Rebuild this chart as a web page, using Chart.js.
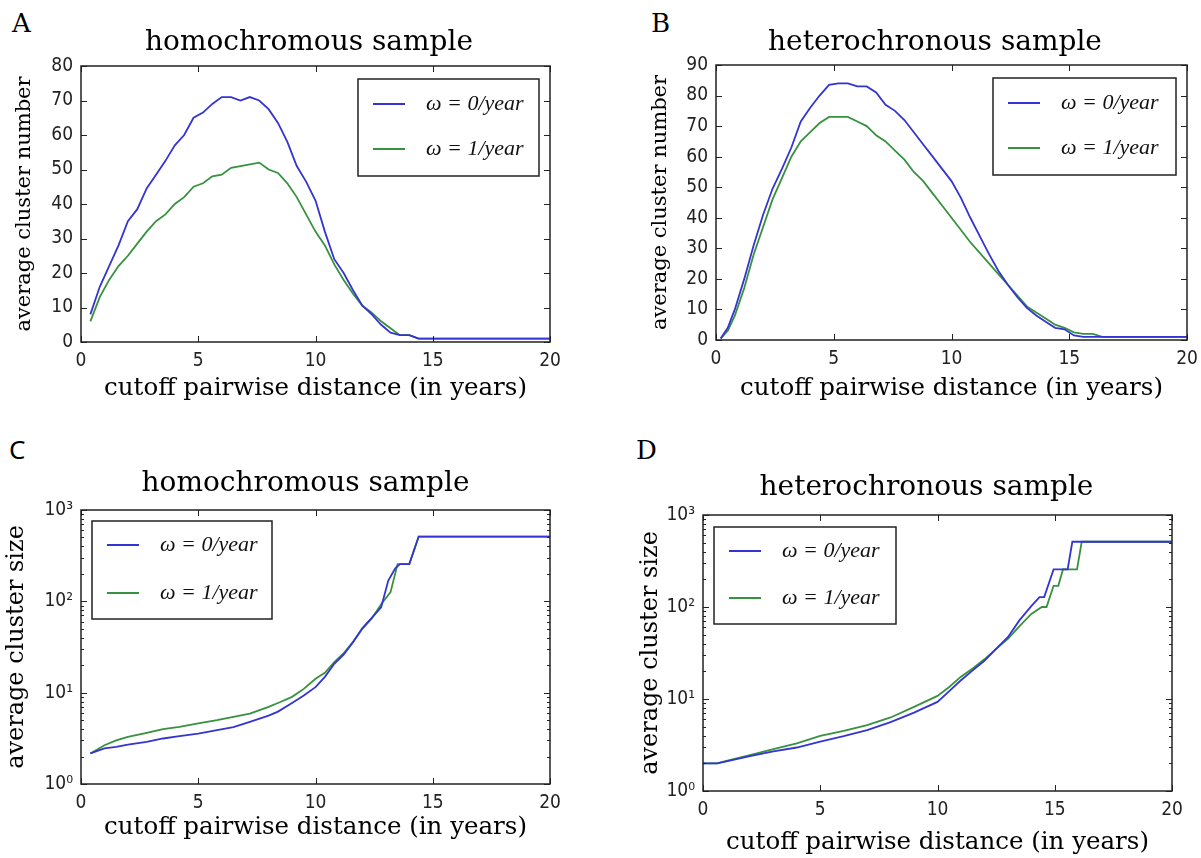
<!DOCTYPE html>
<html>
<head>
<meta charset="utf-8">
<script src="https://cdn.jsdelivr.net/npm/chart.js@4.4.1/dist/chart.umd.min.js"></script>
<style>
  html, body { margin: 0; padding: 0; background: #fff; overflow: hidden; }
  body { position: relative; width: 1201px; height: 858px; }
  .panel { position: absolute; }
  .tag { position: absolute; font-family: 'DejaVu Serif', serif; font-size: 26px; line-height: 1; color: #000; }
</style>
</head>
<body>
<div class="tag" style="left:12px;top:10px">A</div>
<div class="tag" style="left:651px;top:10px">B</div>
<div class="tag" style="left:9px;top:436px;font-family:'Noto Sans',sans-serif">C</div>
<div class="tag" style="left:636px;top:437px">D</div>

<div class="panel" style="left:0px;top:0px;width:618px;height:420px"><canvas id="chartA"></canvas></div>
<div class="panel" style="left:636px;top:0px;width:598px;height:420px"><canvas id="chartB"></canvas></div>
<div class="panel" style="left:0px;top:430px;width:611px;height:428px"><canvas id="chartC"></canvas></div>
<div class="panel" style="left:623px;top:430px;width:607px;height:428px"><canvas id="chartD"></canvas></div>

<script>
'use strict';

// ---- data ----
const seriesLabels = ['ω = 0/year', 'ω = 1/year'];
const panelTitles = ['homochromous sample', 'heterochronous sample', 'homochromous sample', 'heterochronous sample'];
const xAxisTitle = 'cutoff pairwise distance (in years)';
const yAxisTitles = ['average cluster number', 'average cluster number', 'average cluster size', 'average cluster size'];
const logTicks = [1, 10, 100, 1000];
const logTickLabels = ['10⁰', '10¹', '10²', '10³'];

// A: average cluster number, homochromous
const xA = [0.4, 0.8, 1.2, 1.6, 2.0, 2.4, 2.8, 3.2, 3.6, 4.0, 4.4, 4.8, 5.2, 5.6, 6.0, 6.4, 6.8, 7.2, 7.6, 8.0,
  8.4, 8.8, 9.2, 9.6, 10.0, 10.4, 10.8, 11.2, 11.6, 12.0, 12.4, 12.8, 13.2, 13.6, 14.0, 14.4, 14.8, 20];
const numHomoW0 = [8, 16, 22, 28, 35, 38.5, 44.5, 48.5, 52.5, 57, 60, 65, 66.5, 69, 71, 71, 70, 71, 70, 67.5,
  63.5, 58, 51, 46.5, 41, 32, 24, 20, 15, 10.5, 8, 5, 2.7, 2, 2, 1, 1, 1];
const numHomoW1 = [6, 13, 18, 22, 25, 28.5, 32, 35, 37, 40, 42, 45, 46, 48, 48.5, 50.5, 51, 51.5, 52, 50,
  49, 46, 42, 37, 32, 28, 22.5, 18, 14, 10.5, 8.5, 6, 4, 2, 2, 1, 1, 1];

// B: average cluster number, heterochronous
const xB = [0.2, 0.5, 0.8, 1.2, 1.6, 2.0, 2.4, 2.8, 3.2, 3.6, 4.0, 4.4, 4.8, 5.2, 5.6, 6.0, 6.4, 6.8, 7.2, 7.6,
  8.0, 8.4, 8.8, 9.2, 9.6, 10.0, 10.4, 10.8, 11.2, 11.6, 12.0, 12.4, 12.8, 13.2, 13.6, 14.0, 14.4, 14.8,
  15.2, 15.6, 16.0, 16.4, 20];
const numHeteroW0 = [0.5, 4, 10, 20, 31, 41, 49.5, 56, 63, 71.5, 76, 80, 83.5, 84, 84, 83, 83, 81, 77, 75,
  72, 68, 64, 60, 56, 52, 46.5, 40, 34, 28, 22.5, 18, 14, 10.5, 8, 6, 4, 3.5, 1.5, 1, 1, 1, 1];
const numHeteroW1 = [0.5, 3, 8, 17, 28, 37, 46, 53, 60, 65, 68, 71, 73, 73, 73, 71.5, 70, 67, 65, 62,
  59, 55, 52, 48, 44, 40, 36, 32, 28.5, 25, 21.5, 18, 14.5, 11, 9, 7, 5, 4, 2.5, 2, 2, 1, 1];

// C: average cluster size, homochromous (log)
const xSizeHomoW0 = [0.4, 1.0, 1.5, 2.0, 2.8, 3.5, 4.2, 5.0, 5.8, 6.5, 7.2, 8.0, 8.4, 9.0, 9.5, 10.0, 10.4,
  10.8, 11.2, 11.6, 12.0, 12.4, 12.8, 13.1, 13.4, 13.6, 14.0, 14.4, 20];
const sizeHomoW0 = [2.16, 2.45, 2.55, 2.7, 2.9, 3.15, 3.34, 3.57, 3.88, 4.2, 4.8, 5.6, 6.2, 7.7, 9.3, 11.5, 14.9,
  20.7, 26, 35.7, 51, 66, 86, 168, 230, 256, 256, 512, 512];
const xSizeHomoW1 = [0.4, 1.0, 1.5, 2.0, 2.8, 3.5, 4.2, 5.0, 5.8, 6.5, 7.2, 8.0, 8.5, 9.0, 9.5, 10.0, 10.4,
  10.8, 11.2, 11.6, 12.0, 12.4, 12.8, 13.2, 13.5, 14.0, 14.4, 20];
const sizeHomoW1 = [2.16, 2.66, 3.0, 3.28, 3.63, 3.98, 4.22, 4.6, 5.0, 5.43, 5.9, 7.0, 7.9, 9.0, 11, 14.2, 16.5,
  21.6, 27, 36, 50, 65, 93, 126, 256, 256, 512, 512];

// D: average cluster size, heterochronous (log)
const xSizeHeteroW0 = [0, 0.6, 1.0, 2.0, 3.0, 4.0, 5.0, 6.0, 7.0, 8.0, 9.0, 10.0, 10.5, 11.0, 11.5, 12.0, 12.5,
  13.0, 13.5, 14.0, 14.35, 14.55, 14.95, 15.55, 15.75, 20];
const sizeHeteroW0 = [2.0, 2.0, 2.1, 2.4, 2.69, 2.97, 3.45, 3.95, 4.6, 5.6, 7.1, 9.3, 12.2, 16, 20.5, 26, 35,
  47, 72, 102, 128, 128, 256, 256, 512, 512];
const xSizeHeteroW1 = [0, 0.6, 1.0, 2.0, 3.0, 4.0, 5.0, 6.0, 7.0, 8.0, 9.0, 10.0, 10.5, 11.0, 11.5, 12.0, 12.5,
  13.0, 13.5, 14.0, 14.45, 14.65, 14.95, 15.15, 15.35, 15.95, 16.15, 20];
const sizeHeteroW1 = [2.0, 2.0, 2.12, 2.45, 2.85, 3.3, 3.98, 4.5, 5.2, 6.3, 8.2, 10.8, 13.5, 17.5, 21.5, 27, 35,
  45, 62, 84, 100, 100, 170, 170, 256, 256, 512, 512];

// ---- style ----
const BLUE = '#3434d2';
const GREEN = '#38913f';
const SERIF = "'DejaVu Serif', serif";
const SANS = "'DejaVu Sans Condensed', 'DejaVu Sans', sans-serif";
const INK = '#222';

function pts(xs, ys) {
  return xs.map((x, i) => ({ x: x, y: ys[i] }));
}

function isPow10(v) {
  const lg = Math.log10(v);
  return Math.abs(lg - Math.round(lg)) < 1e-9;
}

// matplotlib-like frame with inward ticks
const frameTicks = {
  id: 'frameTicks',
  afterDatasetsDraw(chart) {
    const { ctx, chartArea: a, scales } = chart;
    const xs = scales.x, ys = scales.y;
    ctx.save();
    ctx.strokeStyle = INK;
    ctx.lineWidth = 1;
    ctx.beginPath();
    xs.ticks.forEach(t => {
      const px = Math.round(xs.getPixelForValue(t.value)) + 0.5;
      ctx.moveTo(px, a.bottom); ctx.lineTo(px, a.bottom - 6);
      ctx.moveTo(px, a.top); ctx.lineTo(px, a.top + 6);
    });
    const marks = [];
    if (ys.type === 'logarithmic') {
      for (let e = 0; e < 3; e++) {
        for (let k = 1; k < 10; k++) marks.push({ v: k * Math.pow(10, e), len: k === 1 ? 6 : 3 });
      }
      marks.push({ v: 1000, len: 6 });
    } else {
      ys.ticks.forEach(t => marks.push({ v: t.value, len: 6 }));
    }
    marks.forEach(m => {
      const py = Math.round(ys.getPixelForValue(m.v)) + 0.5;
      ctx.moveTo(a.left, py); ctx.lineTo(a.left + m.len, py);
      ctx.moveTo(a.right, py); ctx.lineTo(a.right - m.len, py);
    });
    ctx.stroke();
    ctx.lineWidth = 1.5;
    ctx.strokeRect(a.left, a.top, a.right - a.left, a.bottom - a.top);
    ctx.restore();
  }
};

// boxed legend inside the plot
const boxLegend = {
  id: 'boxLegend',
  afterDraw(chart, args, opts) {
    const { ctx, chartArea: a } = chart;
    const x = opts.side === 'right' ? a.right - opts.dx - opts.w : a.left + opts.dx;
    const y = a.top + opts.dy;
    ctx.save();
    ctx.fillStyle = '#fff';
    ctx.fillRect(x, y, opts.w, opts.h);
    ctx.strokeStyle = INK;
    ctx.lineWidth = 1.5;
    ctx.strokeRect(x, y, opts.w, opts.h);
    ctx.font = "italic 22px 'Liberation Serif', serif";
    ctx.textBaseline = 'middle';
    chart.data.datasets.forEach((ds, i) => {
      const ry = y + opts.rows[i];
      ctx.strokeStyle = ds.borderColor;
      ctx.lineWidth = 2;
      ctx.beginPath();
      ctx.moveTo(x + 15, ry);
      ctx.lineTo(x + 47, ry);
      ctx.stroke();
      ctx.fillStyle = '#111';
      ctx.fillText(ds.label, x + 68, ry);
    });
    ctx.restore();
  }
};

function makePanel(id, p) {
  const yScale = p.log ? {
    type: 'logarithmic',
    min: 1,
    max: 1000,
    ticks: {
      autoSkip: false,
      padding: 8,
      color: INK,
      font: { family: SANS, size: 19 },
      callback: v => (isPow10(v) ? logTickLabels[logTicks.indexOf(Math.round(v))] : '')
    }
  } : {
    type: 'linear',
    min: 0,
    max: p.yMax,
    ticks: { stepSize: 10, padding: 8, color: INK, font: { family: SANS, size: 19 } }
  };
  Object.assign(yScale, {
    position: 'left',
    grid: { display: false, drawTicks: false },
    border: { display: false },
    title: {
      display: true,
      text: p.yTitle,
      color: '#000',
      font: { family: SERIF, size: p.yTitleSize, lineHeight: 1.2 },
      padding: { top: p.yTitlePad, bottom: 0 }
    },
    afterFit: s => { s.width = p.yAxisW; }
  });

  return new Chart(document.getElementById(id), {
    type: 'line',
    data: {
      datasets: [
        { label: seriesLabels[0], data: pts(p.x0, p.y0), borderColor: BLUE },
        { label: seriesLabels[1], data: pts(p.x1, p.y1), borderColor: GREEN }
      ]
    },
    options: {
      responsive: true,
      maintainAspectRatio: false,
      animation: false,
      layout: { padding: 0 },
      elements: {
        point: { radius: 0 },
        line: { borderWidth: 1.8, tension: 0, fill: false }
      },
      plugins: {
        legend: { display: false },
        tooltip: { enabled: false },
        title: {
          display: true,
          text: p.title,
          color: '#000',
          font: { family: SERIF, size: 28, weight: 'normal', lineHeight: 1.2 },
          padding: p.titlePad
        },
        boxLegend: p.legend
      },
      scales: {
        x: {
          type: 'linear',
          min: 0,
          max: 20,
          ticks: { stepSize: 5, padding: 8, maxRotation: 0, color: INK, font: { family: SANS, size: 19 } },
          grid: { display: false, drawTicks: false },
          border: { display: false },
          title: {
            display: true,
            text: xAxisTitle,
            color: '#000',
            font: { family: SERIF, size: 24.5, lineHeight: 1.2 },
            padding: { top: 0, bottom: p.xTitlePad }
          },
          afterFit: s => { s.height = p.xAxisH; }
        },
        y: yScale,
        // empty right-hand gutter, keeps the title centred where the figure has it
        gutter: {
          type: 'linear',
          position: 'right',
          display: true,
          ticks: { display: false },
          grid: { display: false, drawTicks: false },
          border: { display: false },
          afterFit: s => { s.width = p.gutterW; }
        }
      }
    },
    plugins: [frameTicks, boxLegend]
  });
}

makePanel('chartA', {
  title: panelTitles[0], yTitle: yAxisTitles[0], yMax: 80,
  x0: xA, y0: numHomoW0, x1: xA, y1: numHomoW1,
  yAxisW: 81, gutterW: 68, yTitleSize: 21, yTitlePad: 12.4,
  titlePad: { top: 26, bottom: 6.4 }, xAxisH: 78, xTitlePad: 16.3,
  legend: { side: 'right', dx: 11, dy: 13, w: 181, h: 97, rows: [25, 70] }
});

makePanel('chartB', {
  title: panelTitles[1], yTitle: yAxisTitles[1], yMax: 90,
  x0: xB, y0: numHeteroW0, x1: xB, y1: numHeteroW1,
  yAxisW: 80, gutterW: 47, yTitleSize: 21, yTitlePad: 12.4,
  titlePad: { top: 26, bottom: 5.4 }, xAxisH: 80, xTitlePad: 16.3,
  legend: { side: 'right', dx: 11, dy: 13, w: 183, h: 97, rows: [25, 70] }
});

makePanel('chartC', {
  title: panelTitles[2], yTitle: yAxisTitles[2], log: true,
  x0: xSizeHomoW0, y0: sizeHomoW0, x1: xSizeHomoW1, y1: sizeHomoW1,
  yAxisW: 81, gutterW: 61, yTitleSize: 24, yTitlePad: 2.6,
  titlePad: { top: 36.5, bottom: 9.9 }, xAxisH: 74, xTitlePad: 15.3,
  legend: { side: 'left', dx: 11, dy: 11, w: 180, h: 98, rows: [24, 72] }
});

makePanel('chartD', {
  title: panelTitles[3], yTitle: yAxisTitles[3], log: true,
  x0: xSizeHeteroW0, y0: sizeHeteroW0, x1: xSizeHeteroW1, y1: sizeHeteroW1,
  yAxisW: 80, gutterW: 58, yTitleSize: 24, yTitlePad: 13.6,
  titlePad: { top: 40.5, bottom: 10.9 }, xAxisH: 67, xTitlePad: 0.3,
  legend: { side: 'left', dx: 11, dy: 12, w: 182, h: 97, rows: [24, 71] }
});
</script>
</body>
</html>
